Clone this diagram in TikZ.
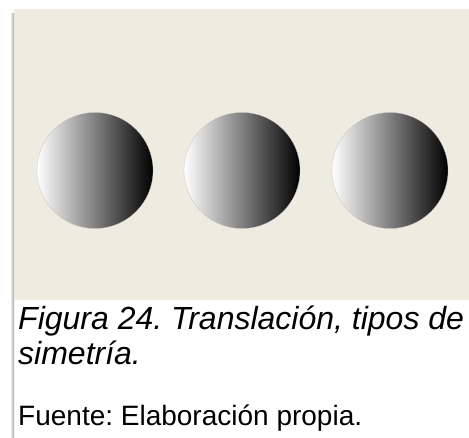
\documentclass[tikz,border=0pt]{standalone}
\usepackage{fontspec}
\setmainfont{Liberation Sans}
\usetikzlibrary{positioning}
\definecolor{panelbeige}{RGB}{238,236,225}
\frenchspacing

\begin{document}
\begin{tikzpicture}[x=1pt,y=-1pt,
    ball/.style={circle,minimum size=116pt,inner sep=0pt,
        left color=white,right color=black,draw=gray!55,very thin},
    caption/.style={anchor=base west,inner sep=0pt,align=left,
        font=\fontsize{32}{35}\selectfont\itshape},
    source/.style={anchor=base west,inner sep=0pt,
        font=\fontsize{28}{32}\selectfont}]

\useasboundingbox (0,0) rectangle (469,438);

        % the shadow on the left and the panel
        \shade[left color=white,right color=gray!70] (10,14) rectangle (14,438);
        \fill[panelbeige] (14,9) rectangle (469,300);

        % the three balls, one moved after the other
        \node[ball] (b1) at (95,170.5) {};
        \node[ball] (b2) at (242,170.5) {};
        \node[ball] (b3) at (390,170.5) {};

        % the texts under the panel (base is the last line)
        \node[caption] (cap) at (18,365) {Figura 24. Translación, tipos de\\simetría.};
        \node[source] (src) at (18,426) {Fuente: Elaboración propia.};
\end{tikzpicture}
\end{document}
